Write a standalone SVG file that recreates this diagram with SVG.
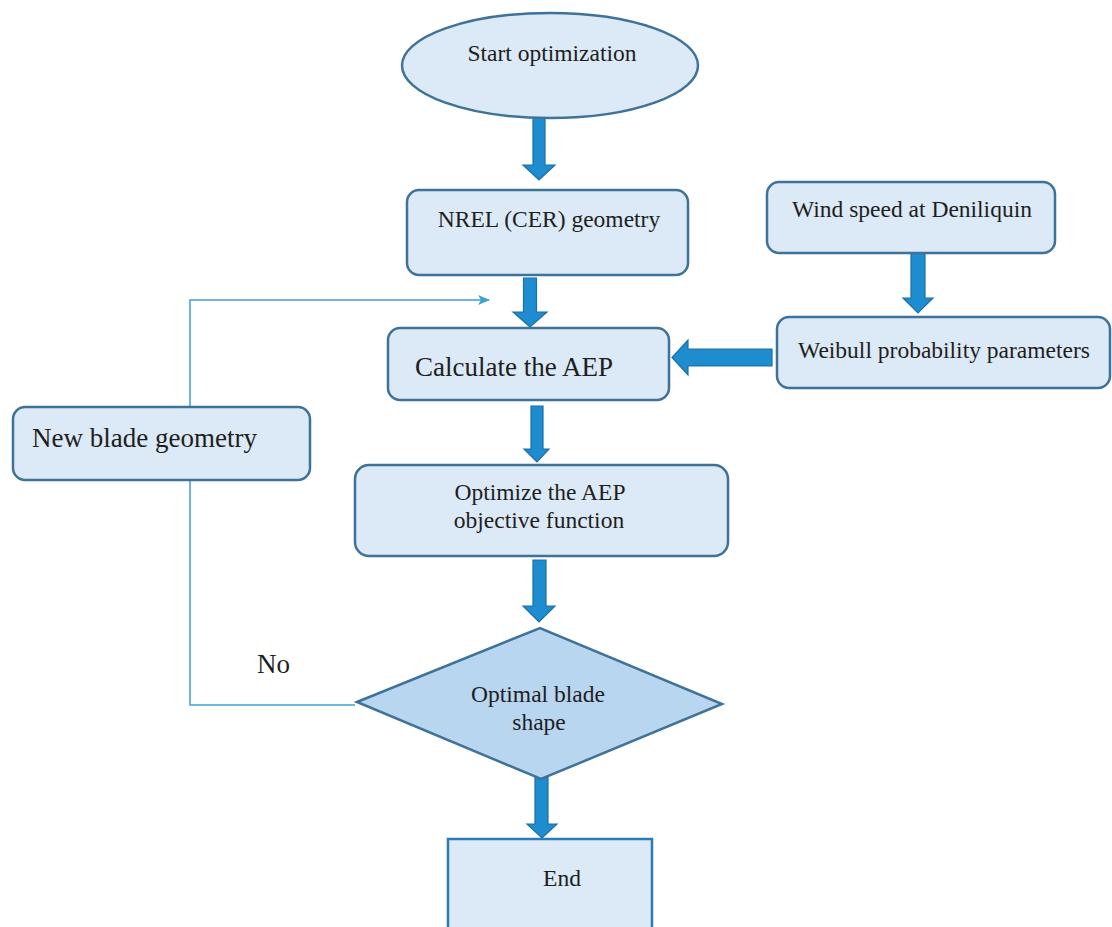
<svg xmlns="http://www.w3.org/2000/svg" width="1112" height="927" viewBox="0 0 1112 927">
<style>
.box{fill:#DCE9F6;stroke:#3F7299;stroke-width:2.5}
.dia{fill:#B9D6F0;stroke:#3F7299;stroke-width:2.5}
.end{fill:#DCE9F6;stroke:#2C7BB8;stroke-width:2.5}
.arr{fill:#1E8DD0;stroke:#1A6FA6;stroke-width:1.2}
.fb{fill:none;stroke:#3FA0D2;stroke-width:1.5}
text{font-family:"Liberation Serif","Times New Roman",serif;fill:#1e1e1e}
.s{font-size:23.5px}
.l{font-size:27px}
</style>
<defs>
<marker id="ah" markerWidth="12" markerHeight="10" refX="11" refY="5" orient="auto" markerUnits="userSpaceOnUse">
<path d="M0,0 L12,5 L0,10 L3,5 Z" fill="#3FA0D2"/>
</marker>
</defs>
<rect width="1112" height="927" fill="#FFFFFF"/>
<g id="connectors">
<path class="fb" d="M355,705 L190,705 L190,300 L489,300" marker-end="url(#ah)"/>
<polygon id="a1" class="arr" points="533,118 545,118 545,165 555,165 539,180 523,165 533,165"/>
<polygon id="a2" class="arr" points="523.5,278 536.5,278 536.5,312 547,312 530,327 513,312 523.5,312"/>
<polygon id="a3" class="arr" points="911,253 925,253 925,298 933,298 918,313 903,298 911,298"/>
<polygon id="a4" class="arr" points="772,349 772,366 688,366 688,375 672,357.5 688,340 688,349"/>
<polygon id="a5" class="arr" points="531,406 543,406 543,449 549,449 537,462 524,449 531,449"/>
<polygon id="a6" class="arr" points="533,560 546,560 546,606 555,606 539,622 523,606 533,606"/>
<polygon id="a7" class="arr" points="535,768 548,768 548,824 557,824 542,838 527,824 535,824"/>
</g>
<g id="start">
<ellipse class="box" cx="550" cy="65.5" rx="148" ry="52.5"/>
<text class="s" x="552" y="61" text-anchor="middle">Start optimization</text>
</g>
<g id="nrel">
<rect class="box" x="407" y="190" width="281" height="85" rx="12"/>
<text class="s" x="549" y="227" text-anchor="middle">NREL (CER) geometry</text>
</g>
<g id="wind">
<rect class="box" x="767" y="182" width="288" height="71" rx="12"/>
<text class="s" x="912" y="217" text-anchor="middle">Wind speed at Deniliquin</text>
</g>
<g id="weibull">
<rect class="box" x="777" y="317" width="333" height="71" rx="12"/>
<text class="s" x="944" y="358" text-anchor="middle">Weibull probability parameters</text>
</g>
<g id="calc">
<rect class="box" x="388" y="328" width="281" height="72" rx="12"/>
<text class="l" x="415" y="376">Calculate the AEP</text>
</g>
<g id="newblade">
<rect class="box" x="13" y="407" width="297" height="73" rx="12"/>
<text class="l" x="32" y="447">New blade geometry</text>
</g>
<g id="optimize">
<rect class="box" x="355" y="465" width="373" height="91" rx="14"/>
<text class="s" x="540" y="500" text-anchor="middle">Optimize the AEP</text>
<text class="s" x="539" y="528" text-anchor="middle">objective function</text>
</g>
<g id="decision">
<polygon class="dia" points="357,702 540,628 722,704 541,779"/>
<text class="s" x="538" y="702" text-anchor="middle">Optimal blade</text>
<text class="s" x="539" y="730" text-anchor="middle">shape</text>
</g>
<g id="nolabel">
<text class="l" x="257" y="673">No</text>
</g>
<g id="endnode">
<rect class="end" x="448" y="839" width="204" height="100"/>
<text class="s" x="562" y="886" text-anchor="middle">End</text>
</g>
</svg>
